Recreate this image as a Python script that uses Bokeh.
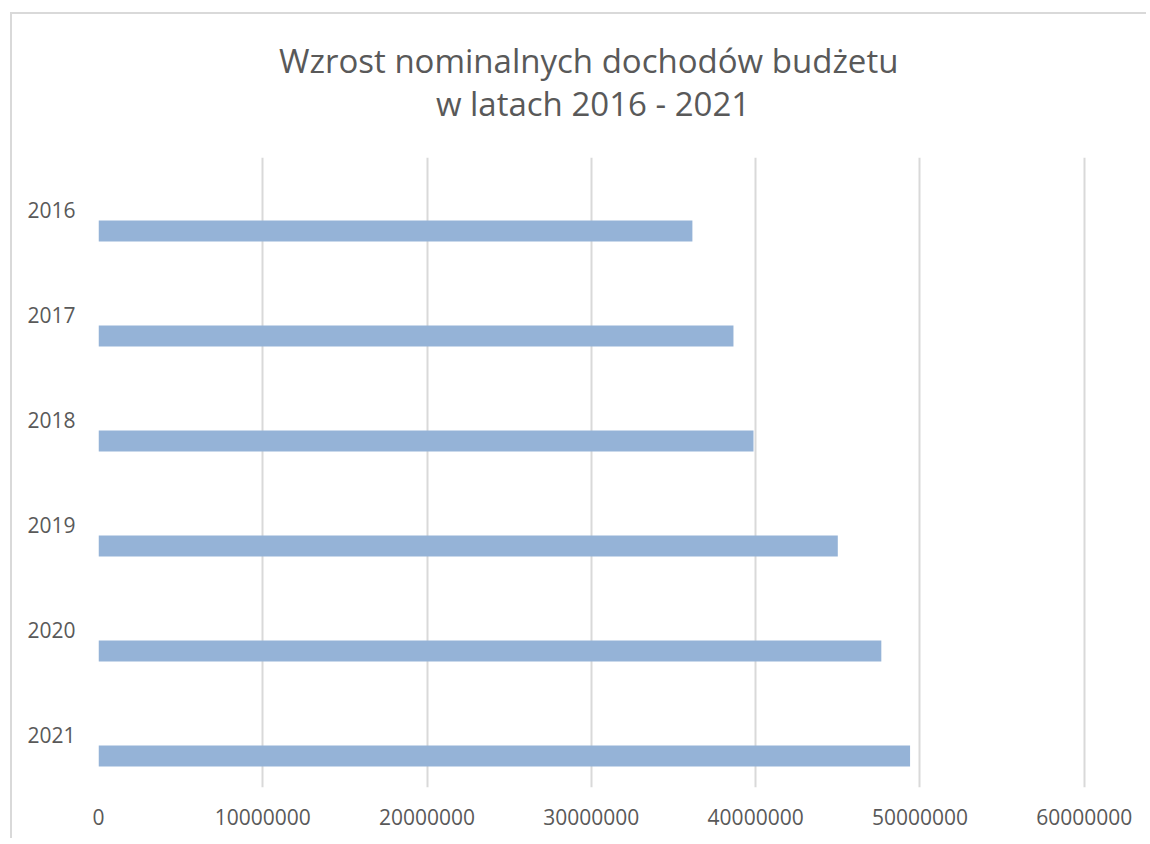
from bokeh.plotting import figure
from bokeh.models import Range1d, FixedTicker, Title
from bokeh.embed import file_html
from bokeh.resources import INLINE

# data
years = ["2016", "2017", "2018", "2019", "2020", "2021"]
values = [36150000, 38650000, 39870000, 45000000, 47650000, 49400000]
x_ticks = [0, 10000000, 20000000, 30000000, 40000000, 50000000, 60000000]
x_tick_labels = ["0", "10000000", "20000000", "30000000", "40000000", "50000000", "60000000"]
title_lines = ["Wzrost nominalnych dochodów  budżetu", "w latach 2016 - 2021"]

FONT = "Open Sans"
TXT = "#595959"

p = figure(width=1136, height=826, output_backend="svg", toolbar_location=None,
           x_range=Range1d(0, 60200000), y_range=Range1d(len(years), 0),
           min_border_left=86, min_border_right=61, min_border_top=143, min_border_bottom=53)
p.margin = (12, 0, 0, 10)
p.styles = {"border-left": "2px solid #d9d9d9", "border-top": "2px solid #d9d9d9"}
p.outline_line_color = None
p.background_fill_color = "white"
p.border_fill_color = "white"

idx = list(range(len(years)))
bar_y = [i + 0.7 for i in idx]
p.hbar(y=bar_y, left=0, right=values, height=0.2, fill_color="#95B3D7", line_color=None)

# x axis
p.xaxis.ticker = FixedTicker(ticks=x_ticks)
p.xaxis.major_label_overrides = {t: l for t, l in zip(x_ticks, x_tick_labels)}
p.xaxis.axis_line_color = None
p.xaxis.major_tick_line_color = None
p.xaxis.minor_tick_line_color = None
p.xaxis.major_tick_out = 0
p.xaxis.major_label_standoff = 21
p.xaxis.major_label_text_font = FONT
p.xaxis.major_label_text_font_size = "21px"
p.xaxis.major_label_text_color = TXT

# y axis
y_centers = [i + 0.5 for i in idx]
p.yaxis.ticker = FixedTicker(ticks=y_centers)
p.yaxis.major_label_overrides = {c: y for c, y in zip(y_centers, years)}
p.yaxis.axis_line_color = None
p.yaxis.major_tick_line_color = None
p.yaxis.minor_tick_line_color = None
p.yaxis.major_tick_out = 0
p.yaxis.major_label_standoff = 23
p.yaxis.major_label_text_font = FONT
p.yaxis.major_label_text_font_size = "21px"
p.yaxis.major_label_text_color = TXT

p.xgrid.ticker = FixedTicker(ticks=x_ticks)
p.xgrid.grid_line_color = "#d9d9d9"
p.xgrid.grid_line_width = 2
p.ygrid.grid_line_color = None

# second line first (closest to the plot), then the first line above it
p.add_layout(Title(text=title_lines[1], align="center", text_font=FONT,
                   text_font_size="33px", text_font_style="normal", text_color=TXT,
                   standoff=63), "above")
p.add_layout(Title(text=title_lines[0], align="center", text_font=FONT,
                   text_font_size="33px", text_font_style="normal", text_color=TXT,
                   standoff=-71), "above")

open("out.html", "w").write(file_html(p, INLINE))
